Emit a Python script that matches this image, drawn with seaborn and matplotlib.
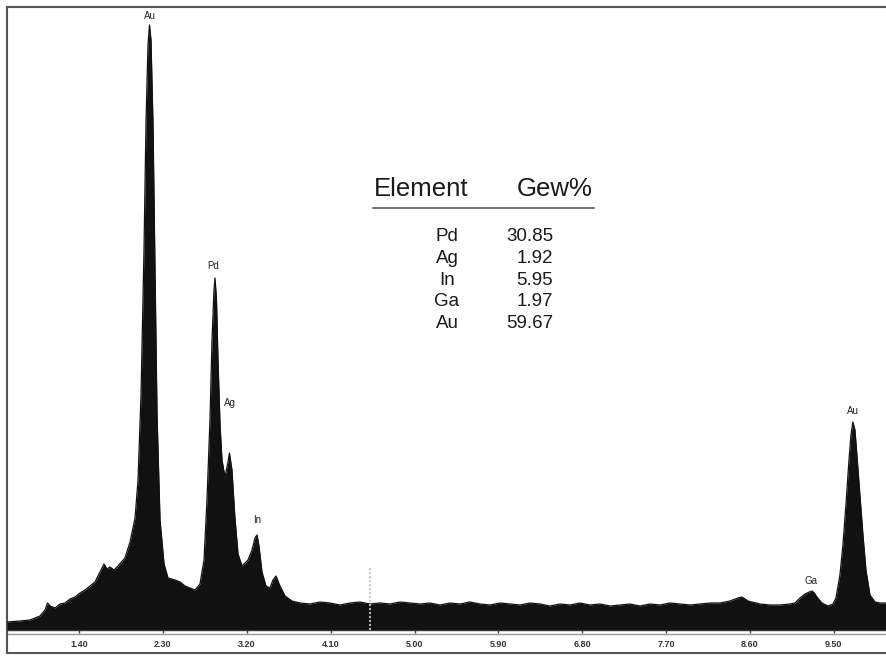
import matplotlib
matplotlib.use("Agg")
import matplotlib.pyplot as plt
import seaborn as sns
from matplotlib.lines import Line2D

# ---------------- data ----------------
energy_kev = [
    0.627, 0.767, 0.874, 0.981, 1.035, 1.062, 1.089, 1.142, 1.196, 1.249,
    1.303, 1.357, 1.410, 1.464, 1.518, 1.571, 1.625, 1.668, 1.700, 1.732,
    1.775, 1.818, 1.893, 1.947, 2.001, 2.033, 2.065, 2.097, 2.119, 2.140,
    2.156, 2.172, 2.194, 2.215, 2.237, 2.269, 2.312, 2.355, 2.430, 2.484,
    2.537, 2.590, 2.644, 2.698, 2.741, 2.773, 2.805, 2.827, 2.848, 2.859,
    2.875, 2.891, 2.913, 2.934, 2.966, 2.998, 3.014, 3.041, 3.073, 3.106,
    3.149, 3.213, 3.256, 3.288, 3.310, 3.331, 3.363, 3.406, 3.449, 3.481,
    3.513, 3.556, 3.610, 3.685, 3.771, 3.878, 3.985, 4.092, 4.200, 4.307,
    4.415, 4.522, 4.629, 4.736, 4.844, 4.951, 5.059, 5.166, 5.273, 5.381,
    5.488, 5.595, 5.702, 5.810, 5.917, 6.024, 6.132, 6.239, 6.346, 6.453,
    6.561, 6.668, 6.775, 6.883, 6.990, 7.097, 7.205, 7.312, 7.419, 7.526,
    7.634, 7.741, 7.848, 7.956, 8.063, 8.170, 8.278, 8.385, 8.470, 8.513,
    8.578, 8.706, 8.814, 8.921, 9.028, 9.082, 9.136, 9.189, 9.237, 9.264,
    9.290, 9.318, 9.372, 9.436, 9.490, 9.522, 9.565, 9.597, 9.629, 9.662,
    9.683, 9.704, 9.726, 9.747, 9.779, 9.812, 9.844, 9.887, 9.941, 9.994,
    10.069,
]
counts = [
    80, 90, 100, 140, 200, 270, 240, 220, 260, 270,
    310, 330, 370, 400, 440, 480, 580, 660, 610, 630,
    600, 640, 720, 880, 1120, 1500, 2350, 3800, 5100, 5850,
    6050, 5900, 5050, 3600, 2150, 1100, 660, 520, 500, 480,
    440, 420, 400, 460, 700, 1300, 2100, 2900, 3400, 3520,
    3300, 2700, 2050, 1700, 1530, 1680, 1770, 1600, 1120, 760,
    640, 700, 800, 920, 950, 840, 580, 440, 420, 500,
    540, 440, 340, 290, 270, 260, 280, 270, 250, 270,
    280, 260, 270, 260, 280, 270, 260, 270, 250, 270,
    260, 280, 260, 250, 270, 260, 250, 270, 260, 240,
    260, 250, 270, 250, 260, 240, 250, 260, 240, 260,
    250, 270, 260, 250, 260, 270, 270, 290, 320, 330,
    290, 260, 250, 250, 260, 270, 320, 360, 380, 390,
    370, 330, 270, 240, 260, 320, 550, 850, 1250, 1700,
    1950, 2080, 2000, 1750, 1350, 950, 600, 350, 280, 270,
    270,
]

peak_names = ["Au", "Pd", "Ag", "In", "Ga", "Au"]
peak_energy = [2.162, 2.837, 3.020, 3.310, 9.254, 9.704]
peak_label_height = [6140, 3640, 2270, 1100, 490, 2190]

tick_values = [1.40, 2.30, 3.20, 4.10, 5.00, 5.90, 6.80, 7.70, 8.60, 9.50]

table_elements = ["Pd", "Ag", "In", "Ga", "Au"]
table_gew = [30.85, 1.92, 5.95, 1.97, 59.67]

marker_energy = 4.522
marker_height = 630

# ---------------- figure ----------------
sns.set_theme(style="white")
plt.rcParams["font.family"] = ["Liberation Sans", "DejaVu Sans"]

W, H = 887, 659
fig = plt.figure(figsize=(W / 100, H / 100), dpi=100)
fig.patch.set_facecolor("white")


def fx(x):
    return x / W


def fy(y):
    return 1 - y / H


frame_col = "#555555"

# outer frame (background axes)
ax_bg = fig.add_axes([fx(7), fy(653), fx(880), (653 - 7) / H])
ax_bg.set_xticks([])
ax_bg.set_yticks([])
for s in ["left", "top", "bottom"]:
    ax_bg.spines[s].set_color(frame_col)
    ax_bg.spines[s].set_linewidth(1.5)
ax_bg.spines["right"].set_visible(False)
ax_bg.axhline((653 - 633.5) / (653 - 7), color="#9a9a9a", lw=1.0)

# spectrum axes
ax = fig.add_axes([fx(7), fy(630), fx(880), (630 - 7) / H])
ax.patch.set_alpha(0)
ax.set_xlim(0.627, 10.07)
ax.set_ylim(0, 6230)

sns.lineplot(x=energy_kev, y=counts, ax=ax, color="#111111", lw=0.9)
ax.fill_between(energy_kev, counts, 0, color="#111111", lw=0)

# cursor marker
ax.vlines(marker_energy, 0, marker_height, colors="#c8c8c8", lw=1.3,
          linestyles=(0, (1.2, 1.0)), zorder=5)

for name, e, h in zip(peak_names, peak_energy, peak_label_height):
    ax.text(e, h, name, ha="center", va="center", fontsize=7, color="#222222")

ax.set_yticks([])
ax.set_xticks(tick_values)
ax.set_xticklabels([f"{v:.2f}" for v in tick_values],
                   fontsize=6.5, fontweight="bold", color="#333333",
                   family=["Liberation Sans Narrow", "Liberation Sans", "DejaVu Sans"])
ax.tick_params(axis="x", direction="out", length=2, width=1, color="#444444",
               pad=5, bottom=True)
for s in ["left", "top", "right"]:
    ax.spines[s].set_visible(False)
ax.spines["bottom"].set_color("#333333")
ax.spines["bottom"].set_linewidth(1.0)
ax.set_xlabel("")
ax.set_ylabel("")

# composition table
fig.text(fx(374), fy(196), "Element", ha="left", va="baseline",
         fontsize=18.5, color="#1a1a1a")
fig.text(fx(593), fy(196), "Gew%", ha="right", va="baseline",
         fontsize=18.5, color="#1a1a1a")
fig.add_artist(Line2D([fx(373), fx(594)], [fy(208), fy(208)],
                      color="#777777", lw=1.5))
row_baselines = [241, 263, 285, 306, 328]
for el, val, yb in zip(table_elements, table_gew, row_baselines):
    fig.text(fx(447), fy(yb), el, ha="center", va="baseline",
             fontsize=13.5, color="#1a1a1a")
    fig.text(fx(553), fy(yb), f"{val:.2f}", ha="right", va="baseline",
             fontsize=13.5, color="#1a1a1a")

fig.savefig("out.png", dpi=100, facecolor="white")
